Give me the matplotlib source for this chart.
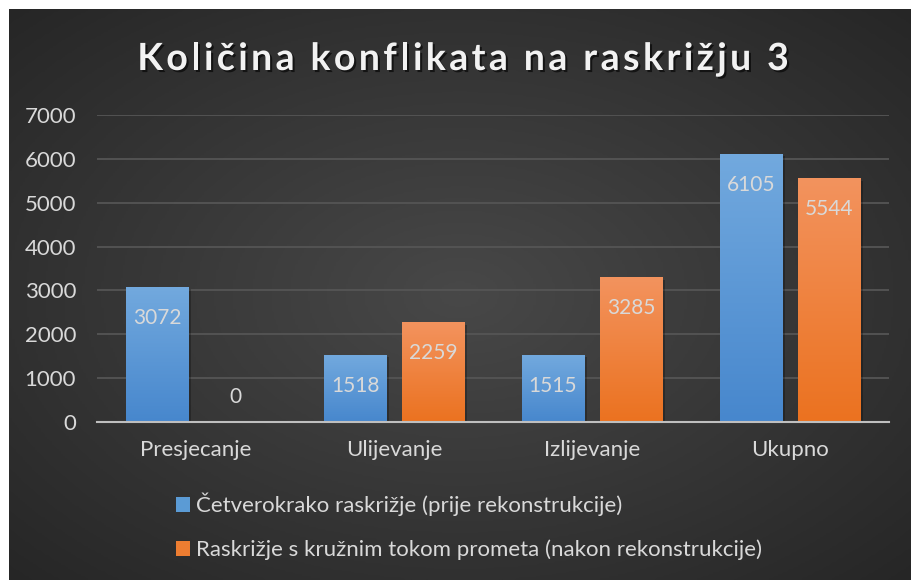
import numpy as np
import matplotlib
matplotlib.use('Agg')

import matplotlib.pyplot as plt
import matplotlib.patheffects as pe
from matplotlib.colors import LinearSegmentedColormap
from matplotlib.patches import Patch

categories = ['Presjecanje', 'Ulijevanje', 'Izlijevanje', 'Ukupno']
prije = [3072, 1518, 1515, 6105]
nakon = [0, 2259, 3285, 5544]
series_names = ['Četverokrako raskrižje (prije rekonstrukcije)',
                'Raskrižje s kružnim tokom prometa (nakon rekonstrukcije)']
title = 'Količina konflikata na raskrižju 3'
yticks = [0, 1000, 2000, 3000, 4000, 5000, 6000, 7000]

W, H = 911, 580
TXT = '#d9d9d9'
FONT = 'Lato'

fig = plt.figure(figsize=(W / 100, H / 100), dpi=100)
fig.patch.set_facecolor('white')

# dark radial background (white strip left and top like the screenshot)
bg = fig.add_axes([9 / W, 0, (W - 9) / W, (H - 9) / H], zorder=-5)
bg.axis('off')
yy, xx = np.mgrid[0:1:300j, 0:1:400j]
r = np.sqrt(((xx - 0.5) / 0.75) ** 2 + ((yy - 0.5) / 0.75) ** 2)
r = np.clip(r, 0, 1)
bg_cmap = LinearSegmentedColormap.from_list('bg', ['#484848', '#262626'])
bg.imshow(r, cmap=bg_cmap, vmin=0, vmax=0.95, aspect='auto', extent=[0, 1, 0, 1])
bg.set_xlim(0, 1)
bg.set_ylim(0, 1)

ax = fig.add_axes([97 / W, 158 / H, 792 / W, 307 / H])
ax.set_facecolor('none')

blue_cmap = LinearSegmentedColormap.from_list('b', ['#4787cd', '#72a9de'])
orange_cmap = LinearSegmentedColormap.from_list('o', ['#eb7220', '#f3935e'])
grad = np.linspace(0, 1, 128).reshape(-1, 1)

x = np.arange(len(categories))
bw = 0.315
off = 0.197


def grad_bars(xs, vals, cmap):
    for xc, v in zip(xs, vals):
        if v <= 0:
            continue
        # soft shadow
        ax.bar(xc + 0.012, v, bw, bottom=-40, color='black', alpha=0.25, zorder=1.5)
        ax.imshow(grad, cmap=cmap, aspect='auto', origin='lower',
                  extent=[xc - bw / 2, xc + bw / 2, 0, v], zorder=2)


grad_bars(x - off, prije, blue_cmap)
grad_bars(x + off, nakon, orange_cmap)

for xs, vals in ((x - off, prije), (x + off, nakon)):
    for xc, v in zip(xs, vals):
        dy = -22 if v > 0 else 18
        ax.annotate(str(v), (xc, v), xytext=(0, dy), textcoords='offset points',
                    ha='center', va='center', color=TXT, fontsize=15, family=FONT,
                    zorder=4)

ax.set_xlim(-0.5, 3.5)
ax.set_ylim(0, 7000)
ax.set_yticks(yticks)
ax.set_xticks(x)
ax.set_xticklabels(categories)
ax.grid(axis='y', color='#555555', lw=1.3, zorder=0)
ax.set_axisbelow(True)
for s in ('left', 'right', 'top'):
    ax.spines[s].set_visible(False)
ax.spines['bottom'].set_color('#bfbfbf')
ax.spines['bottom'].set_linewidth(1.5)
ax.spines['bottom'].set_zorder(3)
ax.tick_params(length=0, labelcolor=TXT, labelsize=16)
ax.tick_params(axis='y', pad=15)
ax.tick_params(axis='x', pad=13)
for lab in ax.get_xticklabels() + ax.get_yticklabels():
    lab.set_family(FONT)


def spaced_text(s, xc, base_y, gap, **kw):
    # draw text char by char with extra letter spacing (pixels)
    fig.canvas.draw()
    rend = fig.canvas.get_renderer()

    def width(t):
        tt = fig.text(0, 0, t, **kw)
        w = tt.get_window_extent(rend).width
        tt.remove()
        return w

    total = width(s) + gap * (len(s) - 1)
    left = xc - total / 2
    for i, ch in enumerate(s):
        if ch == ' ':
            continue
        xi = left + width(s[:i + 1]) - width(ch) + i * gap
        fig.text(xi / W, 1 - base_y / H, ch, ha='left', va='baseline', **kw)


spaced_text(title, 463, 70, 3.4, fontsize=27, fontweight='bold', family=FONT,
            color='#f2f2f2',
            path_effects=[pe.withSimplePatchShadow(offset=(1.5, -1.5),
                                                   shadow_rgbFace='black', alpha=0.6)])

handles = [Patch(facecolor='#5b9bd5'), Patch(facecolor='#ed7d31')]
fig.legend(handles, series_names, loc='upper left', bbox_to_anchor=(176 / W, 1 - 493 / H),
           frameon=False, borderpad=0, borderaxespad=0, handlelength=0.63,
           handleheight=0.63, handletextpad=0.27, labelspacing=1.05,
           labelcolor=TXT, prop={'family': FONT, 'size': 16})

fig.savefig('out.png', dpi=100, facecolor=fig.get_facecolor())
